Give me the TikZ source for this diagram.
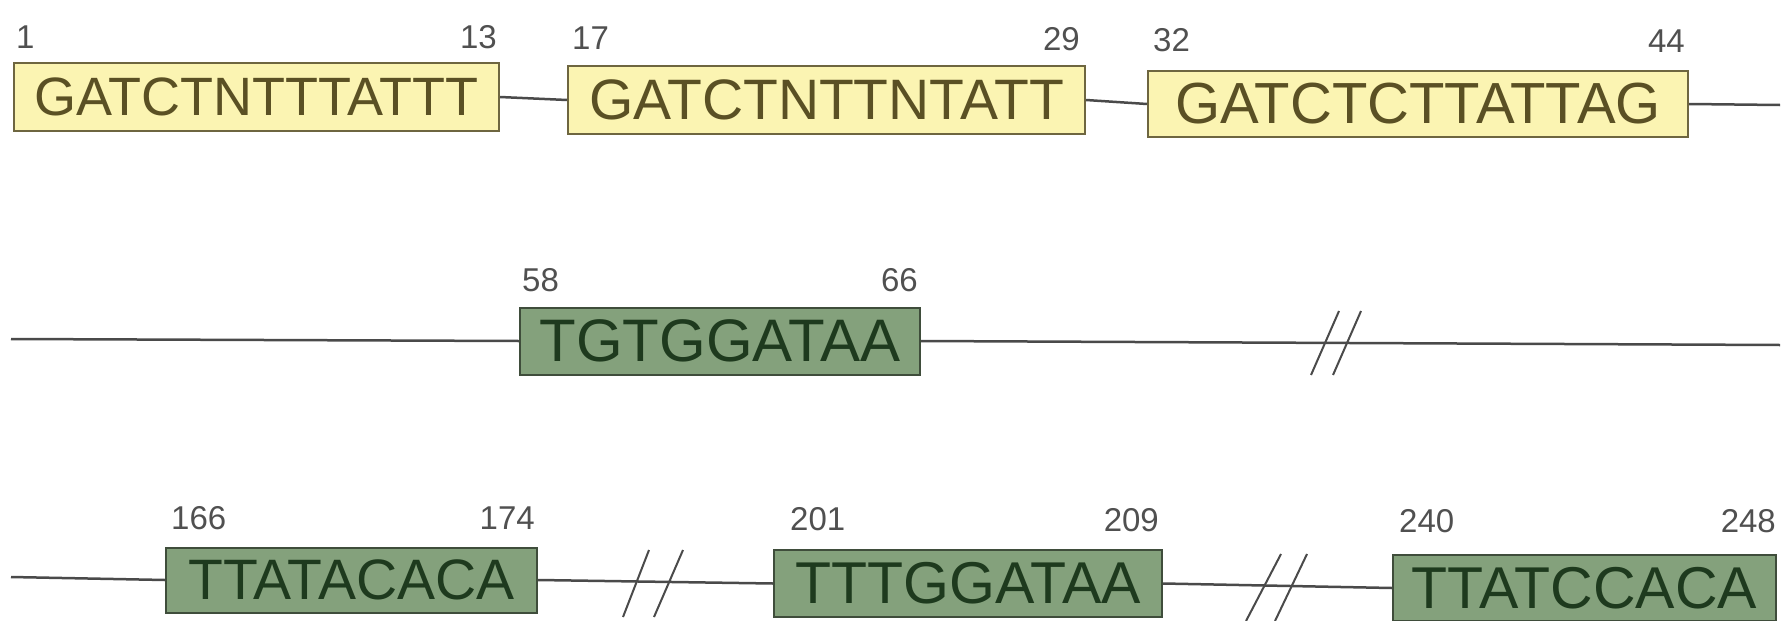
\documentclass[tikz,border=0pt]{standalone}
\usepackage{fontspec}
\setmainfont{Liberation Sans}
\definecolor{yfill}{HTML}{FBF4B2}
\definecolor{ydraw}{HTML}{6E6640}
\definecolor{ytext}{HTML}{5A5024}
\definecolor{gfill}{HTML}{84A17C}
\definecolor{gdraw}{HTML}{3F4D3B}
\definecolor{gtext}{HTML}{1E3A1E}
\definecolor{numcol}{HTML}{505050}
\definecolor{linecol}{HTML}{4A4A4A}
\begin{document}
\begin{tikzpicture}[x=1pt,y=-1pt,
  seqbox/.style={line width=2pt, inner sep=0pt, anchor=center},
  ybox/.style={seqbox, draw=ydraw, fill=yfill, text=ytext},
  gbox/.style={seqbox, draw=gdraw, fill=gfill, text=gtext},
  num/.style={text=numcol, inner sep=0pt, font=\fontsize{33}{33}\selectfont},
  dna/.style={draw=linecol, line width=2.5pt},
  brk/.style={draw=linecol, line width=2pt}]
\useasboundingbox (0,0) rectangle (1791,621);

% ---- Row 1 ----
\node[ybox, minimum width=485pt, minimum height=68pt, font=\fontsize{54}{54}\selectfont] (b1) at (256.5,97) {GATCTNTTTATTT};
\node[ybox, minimum width=517pt, minimum height=68pt, font=\fontsize{57}{57}\selectfont] (b2) at (826.5,100) {GATCTNTTNTATT};
\node[ybox, minimum width=540pt, minimum height=66pt, font=\fontsize{58}{58}\selectfont] (b3) at (1418,104) {GATCTCTTATTAG};
\coordinate (r1end) at (1780,105);
\draw[dna] (b1.east) -- (b2.west);
\draw[dna] (b2.east) -- (b3.west);
\draw[dna] (b3.east) -- (r1end);
\node[num, anchor=base west] (n1) at (16,48) {1};
\node[num, anchor=base east] (n13) at (497,48) {13};
\node[num, anchor=base west] (n17) at (572,49) {17};
\node[num, anchor=base east] (n29) at (1080,50) {29};
\node[num, anchor=base west] (n32) at (1153,51) {32};
\node[num, anchor=base east] (n44) at (1685,52) {44};

% ---- Row 2 ----
\node[gbox, minimum width=400pt, minimum height=67pt, font=\fontsize{60}{60}\selectfont] (g1) at (720,341) {TGTGGATAA};
\coordinate (r2start) at (11,339);
\coordinate (r2end) at (1780,345);
\draw[dna] (r2start) -- (g1.west);
\draw[dna] (g1.east) -- (r2end);
\coordinate (s1a) at (1311,375); \coordinate (s1b) at (1339,311);
\coordinate (s2a) at (1333,375); \coordinate (s2b) at (1361,311);
\draw[brk] (s1a) -- (s1b);
\draw[brk] (s2a) -- (s2b);
\node[num, anchor=base west] (n58) at (522,291) {58};
\node[num, anchor=base east] (n66) at (918,291) {66};

% ---- Row 3 ----
\node[gbox, minimum width=371pt, minimum height=65pt, font=\fontsize{57}{57}\selectfont] (g2) at (351.5,580) {TTATACACA};
\node[gbox, minimum width=388pt, minimum height=67pt, font=\fontsize{59}{59}\selectfont] (g3) at (968,583.5) {TTTGGATAA};
\node[gbox, minimum width=383pt, minimum height=66pt, font=\fontsize{59}{59}\selectfont] (g4) at (1584.5,588) {TTATCCACA};
\coordinate (r3start) at (11,577);
\draw[dna] (r3start) -- (g2.west);
\draw[dna] (g2.east) -- (g3.west);
\draw[dna] (g3.east) -- (g4.west);
\coordinate (t1a) at (623,617); \coordinate (t1b) at (649,550);
\coordinate (t2a) at (654,617); \coordinate (t2b) at (683,550);
\draw[brk] (t1a) -- (t1b);
\draw[brk] (t2a) -- (t2b);
\coordinate (u1a) at (1246,621); \coordinate (u1b) at (1281,554);
\coordinate (u2a) at (1275,621); \coordinate (u2b) at (1307,554);
\draw[brk] (u1a) -- (u1b);
\draw[brk] (u2a) -- (u2b);
\node[num, anchor=base west] (n166) at (171,529) {166};
\node[num, anchor=base east] (n174) at (535,529) {174};
\node[num, anchor=base west] (n201) at (790,530) {201};
\node[num, anchor=base east] (n209) at (1159,531) {209};
\node[num, anchor=base west] (n240) at (1399,532) {240};
\node[num, anchor=base east] (n248) at (1776,532) {248};
\end{tikzpicture}
\end{document}
